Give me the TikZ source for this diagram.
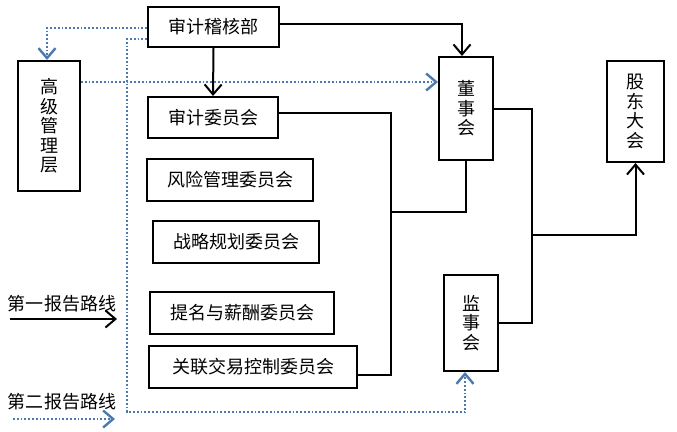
\documentclass[tikz,border=0pt]{standalone}
\usepackage{fontspec}
\setmainfont{Noto Sans CJK SC}
\usetikzlibrary{arrows.meta}
\definecolor{dotblue}{RGB}{74,122,176}
\tikzset{
  box/.style={draw=black, line width=2pt, rectangle, inner sep=0pt, font=\fontsize{18}{19.5}\selectfont},
  vbox/.style={box, align=center},
  conn/.style={draw=black, line width=2pt},
  dotline/.style={draw=dotblue, line width=2pt, dash pattern=on 1.8pt off 2pt},
  arr/.style={-{Straight Barb[length=10pt,width=17pt,line width=2pt]}},
  darr/.style={-{Straight Barb[length=10pt,width=17pt,line width=2.4pt]}},
  lbl/.style={inner sep=0pt, font=\fontsize{18}{19.5}\selectfont},
}
\begin{document}
\begin{tikzpicture}[x=1pt,y=-1pt]
\useasboundingbox (0,0) rectangle (677,431);
% boxes
\node[box, minimum width=131pt, minimum height=40pt] (jh) at (213.5,27) {审计稽核部};
\node[vbox, minimum width=62pt, minimum height=130pt] (gg) at (49,126) {高\\级\\管\\理\\层};
\node[box, minimum width=130pt, minimum height=41pt] (sj) at (213,117.5) {审计委员会};
\node[box, minimum width=166pt, minimum height=42pt] (fx) at (230,180) {风险管理委员会};
\node[box, minimum width=166pt, minimum height=42pt] (zl) at (236,242) {战略规划委员会};
\node[box, minimum width=184pt, minimum height=42pt] (tm) at (242,313) {提名与薪酬委员会};
\node[box, minimum width=208pt, minimum height=42pt] (gl) at (253,367) {关联交易控制委员会};
\node[vbox, minimum width=54pt, minimum height=103pt] (ds) at (466,108.5) {董\\事\\会};
\node[vbox, minimum width=57pt, minimum height=101pt] (gd) at (635.5,111.5) {股\\东\\大\\会};
\node[vbox, minimum width=54pt, minimum height=96pt] (js) at (471,323) {监\\事\\会};
% junctions
\coordinate (j1) at (391,212);
\coordinate (j2) at (532,235);
\coordinate (dv) at (127,412);
% solid connectors
\draw[conn,arr] (jh.east |- 0,24) -| ([xshift=-4pt]ds.north);
\draw[conn,arr] (jh.south) -- (sj.north);
\draw[conn] (sj.east |- 0,113) -| (j1) -| (ds.south);
\draw[conn] (gl.east |- 0,375) -| (j1);
\draw[conn] (ds.east) -| (j2);
\draw[conn] (js.east) -| (j2);
\draw[conn,arr] (j2) -| (gd.south);
% dotted connectors
\draw[dotline,darr] (jh.west |- 0,28) -| ([xshift=-2pt]gg.north);
\draw[dotline,darr] (gg.east |- 0,82) -- (ds.west |- 0,82);
\draw[dotline,darr] (jh.west |- 0,39) -| (dv) -| ([xshift=-6pt]js.south);
% legend
\node[lbl] (l1) at (62,304) {第一报告路线};
\coordinate (l1a) at (10,319);
\coordinate (l1b) at (117,319);
\draw[conn,arr] (l1a) -- (l1b);
\node[lbl] (l2) at (62,402) {第二报告路线};
\coordinate (l2a) at (13,419);
\coordinate (l2b) at (115,419);
\draw[dotline,darr] (l2a) -- (l2b);
\end{tikzpicture}
\end{document}
